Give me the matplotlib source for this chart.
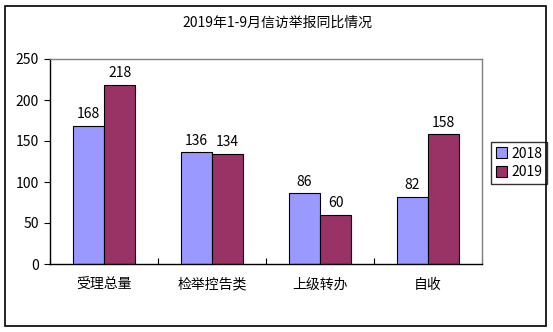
import matplotlib
matplotlib.use("Agg")
import matplotlib.pyplot as plt
from matplotlib.patches import Rectangle
import numpy as np

plt.rcParams['font.family'] = ['Noto Sans CJK SC', 'DejaVu Sans']

categories = ["受理总量", "检举控告类", "上级转办", "自收"]
series_names = ["2018", "2019"]
values_2018 = [168, 136, 86, 82]
values_2019 = [218, 134, 60, 158]
title = "2019年1-9月信访举报同比情况"

W, H = 553, 332
fig = plt.figure(figsize=(W / 100, H / 100), dpi=100)

# outer frame of the chart
fig.patches.append(Rectangle((5 / W, 6 / H), 541 / W, 320 / H, transform=fig.transFigure,
                             fill=False, edgecolor="black", linewidth=1.2))

ax = fig.add_axes([50 / W, 1 - 264 / H, 432 / W, 205 / H])
x = np.arange(len(categories))
bw = 0.29
b1 = ax.bar(x - bw / 2, values_2018, bw, color="#9999FF", edgecolor="black", linewidth=0.8, label=series_names[0])
b2 = ax.bar(x + bw / 2, values_2019, bw, color="#993366", edgecolor="black", linewidth=0.8, label=series_names[1])
for bars in (b1, b2):
    for r in bars:
        ax.text(r.get_x() + r.get_width() / 2, r.get_height() + 6, str(int(r.get_height())),
                ha="center", va="bottom", fontsize=10)

ax.set_xlim(-0.5, len(categories) - 0.5)
ax.set_ylim(0, 250)
ax.set_yticks(range(0, 251, 50))
ax.set_xticks(x)
ax.set_xticklabels(categories, fontsize=10)
ax.set_xticks(np.arange(-0.5, len(categories)), minor=True)
ax.tick_params(axis="x", which="major", length=0, pad=10)
ax.tick_params(axis="x", which="minor", direction="in", length=4, width=0.8)
ax.tick_params(axis="y", direction="out", length=4, width=0.8, labelsize=10, pad=4)
for s in ("top", "right"):
    ax.spines[s].set_color("#808080")
    ax.spines[s].set_linewidth(1.0)
for s in ("left", "bottom"):
    ax.spines[s].set_color("black")
    ax.spines[s].set_linewidth(1.0)

fig.text(277 / W, 1 - 23 / H, title, ha="center", va="center", fontsize=10)

leg = ax.legend(loc="center left", bbox_to_anchor=(491 / W, 1 - 163 / H), bbox_transform=fig.transFigure,
                frameon=True, fancybox=False, edgecolor="black", fontsize=10,
                handlelength=0.8, handleheight=0.8, handletextpad=0.3, borderpad=0.35,
                labelspacing=0.35, borderaxespad=0)
leg.get_frame().set_linewidth(1.0)

fig.savefig("out.png", dpi=100)
